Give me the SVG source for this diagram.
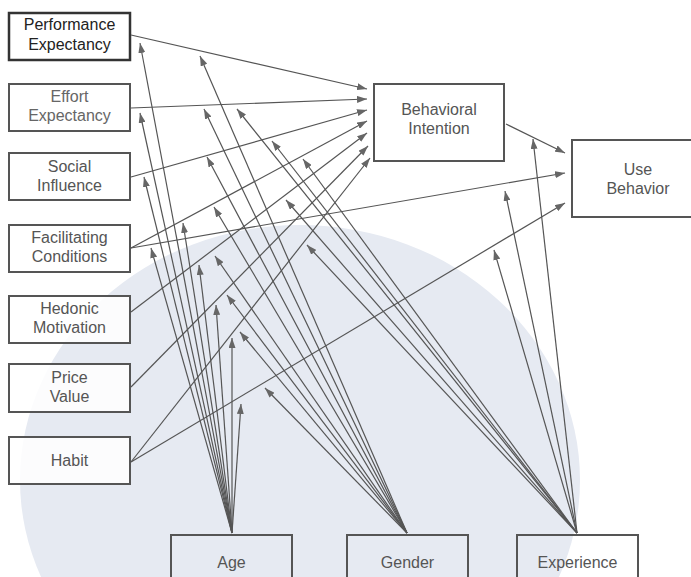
<svg xmlns="http://www.w3.org/2000/svg" width="691" height="577" viewBox="0 0 691 577">
  <defs>
    <marker id="ah" viewBox="0 0 10 7" markerUnits="userSpaceOnUse" markerWidth="10" markerHeight="7" refX="10" refY="3.5" orient="auto">
      <path d="M0,0 L10,3.5 L0,7 z" fill="#666"/>
    </marker>
    <style>
      .box { fill: #ffffff; fill-opacity: 0.85; stroke: #555; stroke-width: 2; }
      .boxb { fill: none; stroke: #555; stroke-width: 2; }
      .lbl { font-family: "Liberation Sans", Arial, sans-serif; font-size: 16px; fill: #555; text-anchor: middle; }
      .con line { stroke: #555; stroke-width: 1.2; marker-end: url(#ah); }
    </style>
  </defs>
  <rect x="0" y="0" width="691" height="577" fill="#ffffff"/>
  <ellipse cx="300" cy="480" rx="280" ry="255" fill="#e6eaf2"/>

  <g id="performance-expectancy">
    <rect x="9" y="13" width="121" height="47" fill="#fff" stroke="#333" stroke-width="2.5"/>
    <text class="lbl" x="69.5" y="30" fill="#222" style="fill:#222">Performance</text>
    <text class="lbl" x="69.5" y="50" style="fill:#222">Expectancy</text>
  </g>
  <g id="effort-expectancy">
    <rect class="box" x="9" y="84" width="121" height="47"/>
    <text class="lbl" x="69.5" y="102" style="fill:#666">Effort</text>
    <text class="lbl" x="69.5" y="121" style="fill:#666">Expectancy</text>
  </g>
  <g id="social-influence">
    <rect class="box" x="9" y="153" width="121" height="47"/>
    <text class="lbl" x="69.5" y="172">Social</text>
    <text class="lbl" x="69.5" y="191">Influence</text>
  </g>
  <g id="facilitating-conditions">
    <rect class="box" x="9" y="225" width="121" height="47"/>
    <text class="lbl" x="69.5" y="243">Facilitating</text>
    <text class="lbl" x="69.5" y="262">Conditions</text>
  </g>
  <g id="hedonic-motivation">
    <rect class="box" x="9" y="296" width="121" height="47"/>
    <text class="lbl" x="69.5" y="314">Hedonic</text>
    <text class="lbl" x="69.5" y="333">Motivation</text>
  </g>
  <g id="price-value">
    <rect class="box" x="9" y="364" width="121" height="48"/>
    <text class="lbl" x="69.5" y="383">Price</text>
    <text class="lbl" x="69.5" y="402">Value</text>
  </g>
  <g id="habit">
    <rect class="box" x="9" y="437" width="121" height="47"/>
    <text class="lbl" x="69.5" y="466">Habit</text>
  </g>
  <g id="behavioral-intention">
    <rect class="box" x="374" y="84" width="130" height="77"/>
    <text class="lbl" x="439" y="115">Behavioral</text>
    <text class="lbl" x="439" y="134">Intention</text>
  </g>
  <g id="use-behavior">
    <rect class="box" x="572" y="140" width="132" height="77"/>
    <text class="lbl" x="638" y="175">Use</text>
    <text class="lbl" x="638" y="194">Behavior</text>
  </g>
  <g id="age">
    <rect class="boxb" x="171" y="535" width="121" height="60"/>
    <text class="lbl" x="231.5" y="568">Age</text>
  </g>
  <g id="gender">
    <rect class="boxb" x="347" y="535" width="121" height="60"/>
    <text class="lbl" x="407.5" y="568">Gender</text>
  </g>
  <g id="experience">
    <rect class="boxb" x="517" y="535" width="121" height="60"/>
    <text class="lbl" x="577.5" y="568">Experience</text>
  </g>

  <g id="connectors" class="con">
    <line x1="131" y1="35" x2="367" y2="89"/>
    <line x1="131" y1="108" x2="367" y2="99"/>
    <line x1="131" y1="177" x2="367" y2="110"/>
    <line x1="131" y1="248" x2="367" y2="121"/>
    <line x1="131" y1="312" x2="367" y2="133"/>
    <line x1="131" y1="387" x2="368" y2="146"/>
    <line x1="131" y1="462" x2="370" y2="158"/>
    <line x1="506" y1="124" x2="565" y2="153"/>
    <line x1="131" y1="248" x2="565" y2="173"/>
    <line x1="131" y1="462" x2="565" y2="203"/>

    <line x1="232" y1="533" x2="140" y2="43"/>
    <line x1="232" y1="533" x2="140" y2="113"/>
    <line x1="232" y1="533" x2="144" y2="177"/>
    <line x1="232" y1="533" x2="183" y2="223"/>
    <line x1="232" y1="533" x2="151" y2="248"/>
    <line x1="232" y1="533" x2="199" y2="265"/>
    <line x1="232" y1="533" x2="216" y2="305"/>
    <line x1="232" y1="533" x2="232" y2="338"/>
    <line x1="232" y1="533" x2="241" y2="404"/>

    <line x1="407" y1="533" x2="200" y2="56"/>
    <line x1="407" y1="533" x2="204" y2="109"/>
    <line x1="407" y1="533" x2="207" y2="157"/>
    <line x1="407" y1="533" x2="214" y2="207"/>
    <line x1="407" y1="533" x2="215" y2="256"/>
    <line x1="407" y1="533" x2="227" y2="295"/>
    <line x1="407" y1="533" x2="240" y2="332"/>
    <line x1="407" y1="533" x2="265" y2="388"/>

    <line x1="577" y1="533" x2="237" y2="109"/>
    <line x1="577" y1="533" x2="272" y2="141"/>
    <line x1="577" y1="533" x2="303" y2="159"/>
    <line x1="577" y1="533" x2="286" y2="200"/>
    <line x1="577" y1="533" x2="307" y2="245"/>
    <line x1="577" y1="533" x2="533" y2="139"/>
    <line x1="577" y1="533" x2="505" y2="191"/>
    <line x1="577" y1="533" x2="494" y2="250"/>
  </g>
</svg>
